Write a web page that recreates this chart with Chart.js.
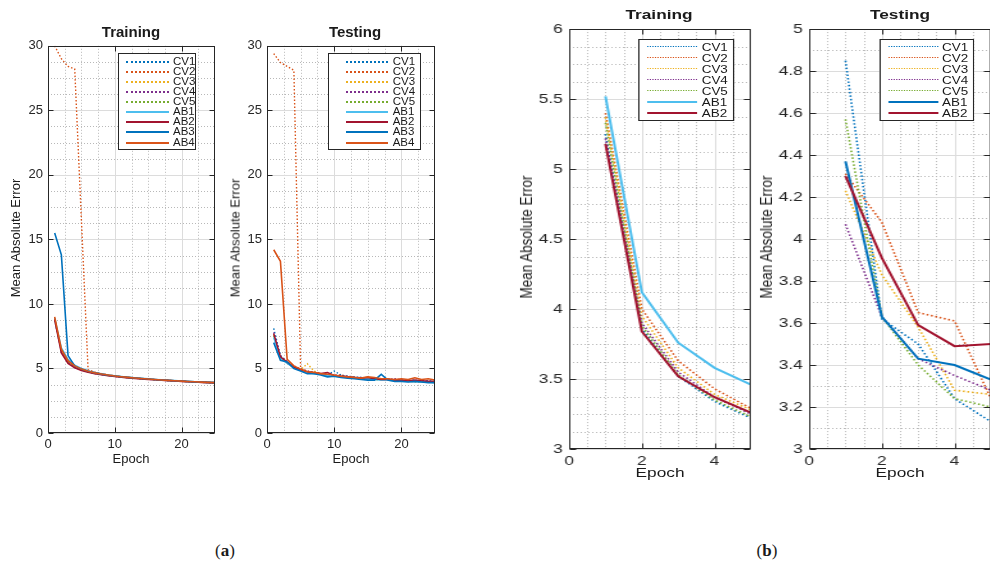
<!DOCTYPE html>
<html>
<head>
<meta charset="utf-8">
<script src="https://cdn.jsdelivr.net/npm/chart.js@4.4.1/dist/chart.umd.min.js"></script>
<style>
  html, body { margin: 0; padding: 0; background: #fff; width: 990px; height: 569px; overflow: hidden; }
  body { position: relative; font-family: "Liberation Sans", Arial, sans-serif; color: #1a1a1a; }
  .panel { position: absolute; top: 0; height: 569px; transform-origin: 0 0; }
  .wrap { position: absolute; }
  .txt { position: absolute; white-space: nowrap; line-height: 1; transform: translate(-50%, -50%); }
  .ytitle { transform: translate(-50%, -50%) rotate(-90deg); }
  .legend { position: absolute; border: 1px solid #262626; background: #fff; box-sizing: border-box; }
  .sample { position: absolute; height: 0; }
  .ltext { position: absolute; white-space: nowrap; line-height: 1; transform: translateY(-50%); }
  .cap { position: absolute; font-family: "Liberation Serif", serif; font-size: 17px; transform: translate(-50%, -50%); }
</style>
</head>
<body>
<div class="cap" style="left:225px;top:551px">(<b>a</b>)</div>
<div class="cap" style="left:767px;top:551px">(<b>b</b>)</div>
<script>
document.addEventListener('DOMContentLoaded', function() {

  /* Data */

  const epochsA = [1, 2, 3, 4, 5, 6, 7, 8, 9, 10, 11, 12, 13, 14, 15, 16, 17, 18, 19, 20, 21, 22, 23, 24, 25];
  const epochsB = [1, 2, 3, 4, 5];
  const namesA = ['CV1', 'CV2', 'CV3', 'CV4', 'CV5', 'AB1', 'AB2', 'AB3', 'AB4'];
  const namesB = ['CV1', 'CV2', 'CV3', 'CV4', 'CV5', 'AB1', 'AB2'];

  const xTicksA = [0, 10, 20];
  const yTicksA = [0, 5, 10, 15, 20, 25, 30];
  const xTicksB = [0, 2, 4];
  const yTicksTrainB = [3, 3.5, 4, 4.5, 5, 5.5, 6];
  const yTicksTestB = [3, 3.2, 3.4, 3.6, 3.8, 4, 4.2, 4.4, 4.6, 4.8, 5];

  // (a) Training
  const trainA_CV1 = [8.8, 6.3, 5.5, 5.1, 4.88, 4.74, 4.63, 4.54, 4.47, 4.40, 4.35, 4.30, 4.25, 4.21, 4.17, 4.13, 4.10, 4.07, 4.04, 4.01, 3.98, 3.96, 3.93, 3.91, 3.89];
  const trainA_CV2 = [30.0, 29.0, 28.4, 28.2, 16.5, 4.9, 4.72, 4.60, 4.50, 4.43, 4.37, 4.31, 4.26, 4.22, 4.18, 4.14, 4.11, 4.08, 4.05, 4.02, 3.99, 3.96, 3.94, 3.92, 3.90];
  const trainA_CV3 = [8.9, 6.5, 5.6, 5.2, 4.95, 4.78, 4.66, 4.56, 4.48, 4.41, 4.35, 4.30, 4.25, 4.21, 4.17, 4.13, 4.10, 4.07, 4.04, 4.01, 3.98, 3.96, 3.94, 3.91, 3.89];
  const trainA_CV4 = [8.7, 6.3, 5.5, 5.1, 4.88, 4.72, 4.61, 4.52, 4.45, 4.38, 4.33, 4.28, 4.24, 4.20, 4.16, 4.12, 4.09, 4.06, 4.03, 4.00, 3.97, 3.95, 3.93, 3.90, 3.88];
  const trainA_CV5 = [8.85, 6.4, 5.55, 5.15, 4.9, 4.75, 4.63, 4.54, 4.46, 4.40, 4.34, 4.29, 4.25, 4.21, 4.17, 4.13, 4.10, 4.07, 4.04, 4.01, 3.98, 3.96, 3.93, 3.91, 3.89];
  const trainA_AB1 = [8.9, 6.6, 5.7, 5.25, 5.0, 4.82, 4.69, 4.59, 4.50, 4.43, 4.37, 4.32, 4.27, 4.23, 4.19, 4.15, 4.12, 4.09, 4.06, 4.03, 4.00, 3.97, 3.95, 3.93, 3.91];
  const trainA_AB2 = [8.8, 6.2, 5.4, 5.05, 4.85, 4.7, 4.6, 4.51, 4.44, 4.38, 4.32, 4.27, 4.23, 4.19, 4.15, 4.12, 4.09, 4.06, 4.03, 4.00, 3.97, 3.95, 3.92, 3.90, 3.88];
  const trainA_AB3 = [15.5, 13.8, 6.0, 5.2, 4.95, 4.78, 4.66, 4.56, 4.48, 4.42, 4.36, 4.31, 4.26, 4.22, 4.18, 4.14, 4.11, 4.08, 4.05, 4.02, 3.99, 3.96, 3.94, 3.92, 3.90];
  const trainA_AB4 = [9.0, 6.5, 5.6, 5.2, 4.95, 4.78, 4.66, 4.57, 4.49, 4.42, 4.36, 4.31, 4.26, 4.22, 4.18, 4.14, 4.11, 4.08, 4.05, 4.02, 3.99, 3.97, 3.94, 3.92, 3.90];

  // (a) Testing
  const testA_CV1 = [8.1, 6.0, 5.5, 5.1, 4.9, 4.75, 4.7, 4.6, 4.5, 4.8, 4.5, 4.4, 4.35, 4.3, 4.25, 4.2, 4.15, 4.2, 4.1, 4.1, 4.05, 4.1, 4.0, 4.05, 4.0];
  const testA_CV2 = [29.4, 28.7, 28.4, 28.1, 5.0, 4.8, 4.7, 4.6, 4.5, 4.45, 4.5, 4.35, 4.3, 4.25, 4.2, 4.25, 4.15, 4.1, 4.15, 4.05, 4.1, 4.0, 4.05, 4.0, 3.95];
  const testA_CV3 = [7.6, 5.9, 5.4, 5.1, 4.9, 5.37, 4.8, 4.6, 4.5, 4.4, 4.4, 4.3, 4.3, 4.2, 4.2, 4.15, 4.1, 4.1, 4.05, 4.0, 4.0, 3.95, 4.0, 3.95, 3.95];
  const testA_CV4 = [7.8, 6.0, 5.5, 5.2, 4.95, 4.8, 4.7, 4.6, 4.55, 4.5, 4.45, 4.4, 4.3, 4.3, 4.25, 4.2, 4.2, 4.15, 4.2, 4.1, 4.1, 4.05, 4.1, 4.0, 4.0];
  const testA_CV5 = [7.5, 5.9, 5.4, 5.1, 4.85, 4.75, 4.65, 4.55, 4.5, 4.45, 4.4, 4.35, 4.3, 4.25, 4.2, 4.15, 4.15, 4.1, 4.1, 4.05, 4.0, 4.0, 3.95, 3.95, 3.9];
  const testA_AB1 = [7.4, 5.8, 5.4, 5.05, 4.85, 4.7, 4.6, 4.55, 4.45, 4.4, 4.35, 4.3, 4.25, 4.2, 4.2, 4.15, 4.1, 4.1, 4.05, 4.05, 4.0, 4.0, 3.95, 3.95, 3.9];
  const testA_AB2 = [7.7, 5.9, 5.5, 5.1, 4.9, 4.75, 4.65, 4.6, 4.68, 4.45, 4.4, 4.35, 4.3, 4.25, 4.3, 4.2, 4.15, 4.15, 4.1, 4.1, 4.05, 4.1, 4.05, 4.0, 4.0];
  const testA_AB3 = [7.0, 5.63, 5.5, 5.0, 4.8, 4.6, 4.6, 4.5, 4.35, 4.4, 4.3, 4.25, 4.2, 4.15, 4.1, 4.1, 4.55, 4.1, 4.0, 4.0, 3.95, 4.0, 3.95, 3.9, 3.9];
  const testA_AB4 = [14.2, 13.3, 5.7, 5.2, 4.95, 4.75, 4.7, 4.6, 4.55, 4.5, 4.4, 4.35, 4.3, 4.25, 4.35, 4.3, 4.2, 4.2, 4.15, 4.2, 4.15, 4.28, 4.15, 4.2, 4.1];

  // (b) Training
  const trainB_CV1 = [5.25, 3.86, 3.52, 3.34, 3.22];
  const trainB_CV2 = [5.40, 4.00, 3.63, 3.43, 3.29];
  const trainB_CV3 = [5.37, 3.95, 3.58, 3.39, 3.28];
  const trainB_CV4 = [5.22, 3.90, 3.55, 3.37, 3.25];
  const trainB_CV5 = [5.33, 3.88, 3.53, 3.35, 3.23];
  const trainB_AB1 = [5.52, 4.12, 3.76, 3.58, 3.46];
  const trainB_AB2 = [5.18, 3.84, 3.52, 3.37, 3.26];

  // (b) Testing
  const testB_CV1 = [4.85, 3.62, 3.50, 3.24, 3.13];
  const testB_CV2 = [4.31, 4.08, 3.65, 3.61, 3.24];
  const testB_CV3 = [4.23, 3.83, 3.58, 3.28, 3.26];
  const testB_CV4 = [4.07, 3.63, 3.43, 3.35, 3.28];
  const testB_CV5 = [4.57, 3.63, 3.40, 3.24, 3.20];
  const testB_AB1 = [4.37, 3.63, 3.43, 3.40, 3.33];
  const testB_AB2 = [4.30, 3.91, 3.59, 3.49, 3.50];

  /* Styles */

  const colorsA = ['#0072BD', '#D95319', '#EDB120', '#7E2F8E', '#77AC30', '#4DBEEE', '#A2142F', '#0072BD', '#D95319'];
  const colorsTrainB = ['#0072BD', '#D95319', '#EDB120', '#7E2F8E', '#77AC30', '#4DBEEE', '#A2142F'];
  const colorsTestB = ['#0072BD', '#D95319', '#EDB120', '#7E2F8E', '#77AC30', '#0072BD', '#A2142F'];

  const layoutA = { s: 1, tick: 13, title: 15, label: 13, legendFont: 11.5, solid: 1.6, dot: 1.4, sampleDot: 2, row0: 61.7, rowGap: 10.1 };
  const layoutB = { s: 1.28, tick: 13.5, title: 13.5, label: 13.5, legendFont: 10.5, solid: 2, dot: 1.6, sampleDot: 1.6, row0: 46.7, rowGap: 11.1 };

  const panels = [
    { title: 'Training', names: namesA, epochs: epochsA, colors: colorsA, xTicks: xTicksA, yTicks: yTicksA,
      series: [trainA_CV1, trainA_CV2, trainA_CV3, trainA_CV4, trainA_CV5, trainA_AB1, trainA_AB2, trainA_AB3, trainA_AB4],
      x: [0, 25, 2.5], y: [0, 30, 1.25], st: layoutA, left: 0,
      plot: [48, 42.7, 215, 432.5], titlePos: [131, 31], epochPos: [131, 458], yTitlePos: [15, 237.5],
      legend: [118, 53, 196, 149.5], sample: [126, 169], textX: 173 },
    { title: 'Testing', names: namesA, epochs: epochsA, colors: colorsA, xTicks: xTicksA, yTicks: yTicksA,
      series: [testA_CV1, testA_CV2, testA_CV3, testA_CV4, testA_CV5, testA_AB1, testA_AB2, testA_AB3, testA_AB4],
      x: [0, 25, 2.5], y: [0, 30, 1.25], st: layoutA, left: 0,
      plot: [267.3, 42.7, 434.8, 432.5], titlePos: [355, 31], epochPos: [351, 458], yTitlePos: [235, 237.5],
      legend: [328, 53, 421, 149.5], sample: [346, 388], textX: 392.7 },
    { title: 'Training', names: namesB, epochs: epochsB, colors: colorsTrainB, xTicks: xTicksB, yTicks: yTicksTrainB,
      series: [trainB_CV1, trainB_CV2, trainB_CV3, trainB_CV4, trainB_CV5, trainB_AB1, trainB_AB2],
      x: [0, 5, 0.5], y: [3, 6, 0.125], st: layoutB, left: 500,
      plot: [569.3, 26, 751.5, 448.5], titlePos: [659, 15], epochPos: [660, 473], yTitlePos: [527, 237],
      legend: [638, 39, 734, 121], sample: [647, 697], textX: 701.7 },
    { title: 'Testing', names: namesB, epochs: epochsB, colors: colorsTestB, xTicks: xTicksB, yTicks: yTicksTestB,
      series: [testB_CV1, testB_CV2, testB_CV3, testB_CV4, testB_CV5, testB_AB1, testB_AB2],
      x: [0, 5, 0.5], y: [3, 5, 0.1], st: layoutB, left: 740,
      plot: [809.3, 26, 991.5, 448.5], titlePos: [900, 15], epochPos: [900, 473], yTitlePos: [767, 237],
      legend: [879, 39, 974, 121], sample: [888, 938], textX: 942 }
  ];

  /* Grid, box and inward ticks (MATLAB look) */

  function steps(min, max, step) {
    const out = [];
    const n = Math.round((max - min) / step);
    for (let i = 1; i < n; i++) out.push(min + i * step);
    return out;
  }

  const framePlugin = {
    id: 'frame',
    beforeDatasetsDraw(chart, args, opts) {
      const { ctx, chartArea: a } = chart;
      const xs = chart.scales.x, ys = chart.scales.y;
      ctx.save();
      ctx.lineWidth = 1;
      ctx.strokeStyle = '#b8b8b8';
      ctx.setLineDash([1, 2]);
      ctx.beginPath();
      opts.xMinor.forEach(v => { const p = Math.round(xs.getPixelForValue(v)) + 0.5; ctx.moveTo(p, a.top); ctx.lineTo(p, a.bottom); });
      opts.yMinor.forEach(v => { const p = Math.round(ys.getPixelForValue(v)) + 0.5; ctx.moveTo(a.left, p); ctx.lineTo(a.right, p); });
      ctx.stroke();
      ctx.setLineDash([]);
      ctx.strokeStyle = '#dcdcdc';
      ctx.beginPath();
      xs.ticks.forEach(t => { const p = Math.round(xs.getPixelForValue(t.value)) + 0.5; ctx.moveTo(p, a.top); ctx.lineTo(p, a.bottom); });
      ys.ticks.forEach(t => { const p = Math.round(ys.getPixelForValue(t.value)) + 0.5; ctx.moveTo(a.left, p); ctx.lineTo(a.right, p); });
      ctx.stroke();
      ctx.restore();
    },
    afterDatasetsDraw(chart) {
      const { ctx, chartArea: a } = chart;
      const xs = chart.scales.x, ys = chart.scales.y;
      const L = Math.round(a.left) + 0.5, R = Math.round(a.right) - 0.5;
      const T = Math.round(a.top) + 0.5, B = Math.round(a.bottom) - 0.5;
      ctx.save();
      ctx.strokeStyle = '#262626';
      ctx.lineWidth = 1;
      ctx.strokeRect(L, T, R - L, B - T);
      ctx.beginPath();
      xs.ticks.forEach(t => {
        const p = Math.round(xs.getPixelForValue(t.value)) + 0.5;
        ctx.moveTo(p, B); ctx.lineTo(p, B - 5);
        ctx.moveTo(p, T); ctx.lineTo(p, T + 5);
      });
      ys.ticks.forEach(t => {
        const p = Math.round(ys.getPixelForValue(t.value)) + 0.5;
        ctx.moveTo(L, p); ctx.lineTo(L + 5, p);
        ctx.moveTo(R, p); ctx.lineTo(R - 5, p);
      });
      ctx.stroke();
      ctx.restore();
    }
  };

  const fmt = v => String(+Number(v).toFixed(3));

  function text(parent, cls, str, x, y, size, bold) {
    const el = document.createElement('div');
    el.className = cls;
    el.textContent = str;
    el.style.left = x + 'px';
    el.style.top = y + 'px';
    el.style.fontSize = size + 'px';
    if (bold) el.style.fontWeight = 'bold';
    parent.appendChild(el);
    return el;
  }

  /* Build the four panels */

  panels.forEach(p => {
    const st = p.st, s = st.s;
    const u = X => (X - p.left) / s;

    const panel = document.createElement('div');
    panel.className = 'panel';
    panel.style.left = p.left + 'px';
    panel.style.width = Math.ceil((1010 - p.left) / s) + 'px';
    panel.style.transform = 'scaleX(' + s + ')';
    document.body.appendChild(panel);

    const [pl, pt, pr, pb] = p.plot;
    const M = { l: 40, t: 10, r: 8, b: 26 };
    const wrap = document.createElement('div');
    wrap.className = 'wrap';
    wrap.style.left = Math.round(u(pl) - M.l) + 'px';
    wrap.style.top = Math.round(pt - M.t) + 'px';
    wrap.style.width = (Math.round(u(pr) - u(pl)) + M.l + M.r) + 'px';
    wrap.style.height = (Math.round(pb - pt) + M.t + M.b) + 'px';
    const canvas = document.createElement('canvas');
    wrap.appendChild(canvas);
    panel.appendChild(wrap);

    const n = p.series.length;
    const datasets = p.series.map((vals, i) => {
      const dotted = p.names[i].startsWith('CV');
      return {
        label: p.names[i],
        data: p.epochs.map((e, j) => ({ x: e, y: vals[j] })),
        borderColor: p.colors[i],
        borderWidth: dotted ? st.dot : st.solid,
        borderDash: dotted ? [1.5, 2] : [],
        pointRadius: 0,
        tension: 0,
        fill: false,
        order: n - i
      };
    });

    const tickFont = { family: '"Liberation Sans", Arial, sans-serif', size: st.tick };

    new Chart(canvas.getContext('2d'), {
      type: 'line',
      data: { datasets },
      options: {
        responsive: true,
        maintainAspectRatio: false,
        animation: false,
        devicePixelRatio: 1,
        layout: { padding: { left: 0, top: M.t, right: M.r, bottom: 0 } },
        plugins: {
          legend: { display: false },
          tooltip: { enabled: false },
          frame: { xMinor: steps(p.x[0], p.x[1], p.x[2]), yMinor: steps(p.y[0], p.y[1], p.y[2]) }
        },
        scales: {
          x: {
            type: 'linear', min: p.x[0], max: p.x[1],
            grid: { display: false, drawTicks: false },
            border: { display: false },
            ticks: { color: '#262626', font: tickFont, padding: 4, maxRotation: 0, autoSkip: false, callback: fmt },
            afterBuildTicks: sc => { sc.ticks = p.xTicks.map(v => ({ value: v })); },
            afterFit: sc => { sc.height = M.b; }
          },
          y: {
            type: 'linear', min: p.y[0], max: p.y[1],
            grid: { display: false, drawTicks: false },
            border: { display: false },
            ticks: { color: '#262626', font: tickFont, padding: 5, autoSkip: false, callback: fmt },
            afterBuildTicks: sc => { sc.ticks = p.yTicks.map(v => ({ value: v })); },
            afterFit: sc => { sc.width = M.l; }
          }
        }
      },
      plugins: [framePlugin]
    });

    // titles
    text(panel, 'txt', p.title, u(p.titlePos[0]), p.titlePos[1], st.title, true);
    text(panel, 'txt', 'Epoch', u(p.epochPos[0]), p.epochPos[1], st.label, false);
    text(panel, 'txt ytitle', 'Mean Absolute Error', u(p.yTitlePos[0]), p.yTitlePos[1], st.label, false);

    // legend
    const [ll, lt, lr, lb] = p.legend;
    const box = document.createElement('div');
    box.className = 'legend';
    box.style.left = u(ll) + 'px';
    box.style.top = lt + 'px';
    box.style.width = (u(lr) - u(ll)) + 'px';
    box.style.height = (lb - lt) + 'px';
    panel.appendChild(box);
    p.names.forEach((name, i) => {
      const rowY = st.row0 + i * st.rowGap;
      const dotted = name.startsWith('CV');
      const line = document.createElement('div');
      line.className = 'sample';
      line.style.left = u(p.sample[0]) + 'px';
      line.style.width = (u(p.sample[1]) - u(p.sample[0])) + 'px';
      line.style.top = (rowY - 1) + 'px';
      line.style.borderTop = (dotted ? st.sampleDot + 'px dotted ' : '2px solid ') + p.colors[i];
      panel.appendChild(line);
      text(panel, 'ltext', name, u(p.textX), rowY, st.legendFont, false);
    });
  });
});
</script>
</body>
</html>
